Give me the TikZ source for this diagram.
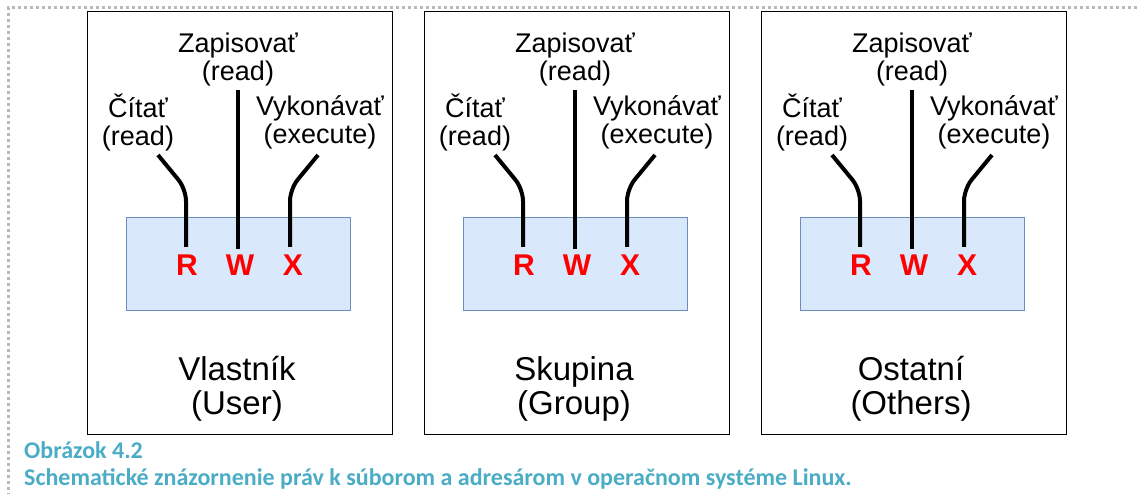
\documentclass[tikz,border=0pt]{standalone}
\usepackage{fontspec}
\setmainfont{Liberation Sans}
\newfontfamily\capfont{Carlito}
\definecolor{capblue}{HTML}{4BACC6}
\definecolor{boxfill}{HTML}{DAE8FC}
\definecolor{boxdraw}{HTML}{6C8EBF}
\begin{document}
\begin{tikzpicture}[x=1pt,y=-1pt,
  panel/.style={draw=black,line width=1.3pt,inner sep=0pt,anchor=north west},
  permbox/.style={draw=boxdraw,fill=boxfill,line width=1pt,inner sep=0pt,anchor=north west},
  lbl/.style={align=center,font=\fontsize{27}{28}\selectfont,inner sep=0pt},
  ttl/.style={align=center,font=\fontsize{33}{34}\selectfont,inner sep=0pt},
  bit/.style={text=red,font=\fontsize{30}{30}\selectfont\bfseries,inner sep=0pt},
  wire/.style={line width=4pt,rounded corners=12pt},
  captext/.style={text=capblue,font=\capfont\bfseries\fontsize{24}{26}\selectfont,inner sep=0pt,anchor=base west},
  frame/.style={draw=gray!55,line width=3pt,dash pattern=on 3pt off 3pt}]
\useasboundingbox (0,0) rectangle (1137,494);
\coordinate (f1) at (1137,8);
\coordinate (f2) at (8,8);
\coordinate (f3) at (8,494);
\draw[frame] (f1) -- (f2) -- (f3);
\foreach \o/\n/\t/\s in {0/a/Vlastník/User,337/b/Skupina/Group,674/c/Ostatní/Others}{
  \node[panel,minimum width=305pt,minimum height=423pt] (pan\n) at ({86.5+\o},11) {};
  \node[permbox,minimum width=224pt,minimum height=93pt] (perm\n) at ({126+\o},217) {};
  \node[bit] (R\n) at ({187+\o},265) {R};
  \node[bit] (W\n) at ({240+\o},265) {W};
  \node[bit] (X\n) at ({293+\o},265) {X};
  \node[lbl] (wl\n) at ({238+\o},60) {Zapisovať\\(read)};
  \node[lbl] (rl\n) at ({138+\o},122) {Čítať\\(read)};
  \node[lbl] (xl\n) at ({320+\o},122) {Vykonávať\\(execute)};
  \node[ttl] (t\n) at ({237+\o},389) {\t\\(\s)};
  \coordinate (rs\n) at ({158+\o},155);
  \coordinate (rc\n) at ({186+\o},189);
  \coordinate (re\n) at ({186+\o},247);
  \coordinate (ws\n) at ({238+\o},90);
  \coordinate (we\n) at ({238+\o},249);
  \coordinate (xs\n) at ({318+\o},155);
  \coordinate (xc\n) at ({290+\o},189);
  \coordinate (xe\n) at ({290+\o},247);
  \draw[wire] (rs\n) -- (rc\n) -- (re\n);
  \draw[wire] (ws\n) -- (we\n);
  \draw[wire] (xs\n) -- (xc\n) -- (xe\n);
}
\node[captext] (c1) at (24,458) {Obrázok 4.2};
\node[captext] (c2) at (24,485) {Schematické znázornenie práv k súborom a adresárom v operačnom systéme Linux.};
\end{tikzpicture}
\end{document}
